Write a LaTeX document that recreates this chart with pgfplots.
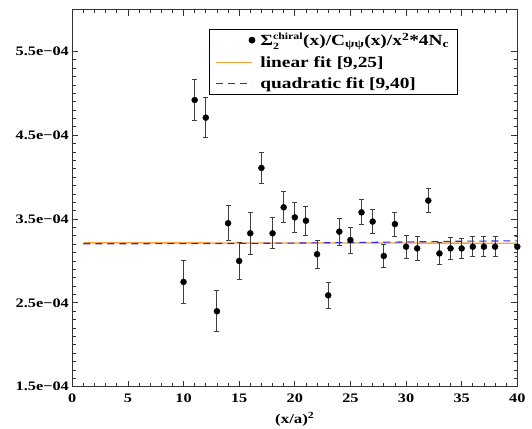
\documentclass[border=0pt]{standalone}
\usepackage{pgfplots}
\pgfplotsset{compat=1.18}
\usepackage{pgfplotstable}
\usepackage{fontspec}
\setmainfont{Liberation Serif}
\newfontfamily\plotfont[FakeStretch=1.25]{Liberation Serif}

\definecolor{fitorange}{RGB}{255,160,50}
\definecolor{fitblue}{RGB}{40,40,240}

% x  y  error
\pgfplotstableread{
x y ey
10 2.75e-4 0.26e-4
11 4.92e-4 0.24e-4
12 4.71e-4 0.24e-4
13 2.40e-4 0.245e-4
14 3.45e-4 0.21e-4
15 3.00e-4 0.22e-4
16 3.33e-4 0.25e-4
17 4.11e-4 0.18e-4
18 3.33e-4 0.185e-4
19 3.64e-4 0.185e-4
20 3.52e-4 0.18e-4
21 3.48e-4 0.175e-4
22 3.08e-4 0.17e-4
23 2.59e-4 0.155e-4
24 3.35e-4 0.16e-4
25 3.25e-4 0.155e-4
26 3.58e-4 0.15e-4
27 3.47e-4 0.147e-4
28 3.06e-4 0.14e-4
29 3.44e-4 0.143e-4
30 3.17e-4 0.137e-4
31 3.15e-4 0.14e-4
32 3.72e-4 0.143e-4
33 3.09e-4 0.13e-4
34 3.15e-4 0.13e-4
35 3.15e-4 0.12e-4
36 3.17e-4 0.12e-4
37 3.17e-4 0.12e-4
38 3.17e-4 0.12e-4
40 3.17e-4 0.12e-4
}\chiraldata

\newcommand{\smallfont}{\fontsize{9.5}{9.5}\selectfont}

\begin{document}
\begin{tikzpicture}
\begin{axis}[
    scale only axis,
    width=445pt, height=377.2pt,
    xmin=0, xmax=40, ymin=1.5e-4, ymax=6.0e-4,
    xtick={0,5,...,40}, minor x tick num=4,
    ytick={1.5e-4,2.5e-4,3.5e-4,4.5e-4,5.5e-4},
    yticklabels={1.5e−04,2.5e−04,3.5e−04,4.5e−04,5.5e−04},
    minor y tick num=9,
    scaled y ticks=false,
    tick align=inside,
    major tick length=6pt, minor tick length=3.5pt,
    tick style={black!80, line width=0.8pt},
    axis line style={black!80, line width=1pt},
    ticklabel style={font=\plotfont\bfseries\fontsize{13}{13}\selectfont},
    xticklabel style={yshift=-4pt},
    /pgf/number format/assume math mode=true,
    xlabel={(x/a)\textsuperscript{2}},
    label style={font=\plotfont\bfseries\fontsize{13.5}{13.5}\selectfont},
    xlabel style={at={(axis description cs:0.5,0)}, anchor=north, yshift=-22pt},
    legend style={at={(0.307,0.949)}, anchor=north west,
        draw=black, line width=0.8pt, inner xsep=6pt,
        font=\plotfont\bfseries\fontsize{15.5}{15.5}\selectfont,
        row sep=5pt,
        /tikz/every odd column/.append style={column sep=3pt}},
    legend cell align=left,
]
% fit curves, below the points
\addplot[fitorange, line width=1.3pt, forget plot]
    coordinates {(1,3.217e-4) (40,3.212e-4)};
\addplot[fitblue, line width=1.1pt, dash pattern=on 7pt off 5pt, smooth, forget plot]
    coordinates {(1,3.205e-4) (5,3.2055e-4) (10,3.207e-4) (15,3.2092e-4)
                 (20,3.2137e-4) (25,3.2196e-4) (30,3.2268e-4) (35,3.2354e-4) (40,3.24e-4)};

\addplot[only marks, mark=*, mark size=3pt, black,
    legend image code/.code={%
        \path[draw=none, fill=none] (0pt,-3pt) rectangle (39pt,3pt);
        \fill[black] (36pt,0pt) circle (3pt);},
    error bars/.cd, y dir=both, y explicit,
    error bar style={black!75, line width=0.9pt},
    error mark options={rotate=90, mark size=2.5pt, black!75, line width=0.9pt}]
    table[x=x, y=y, y error=ey] {\chiraldata};
\addlegendentry{$\mbox{Σ}_{\mbox{\smallfont 2}}^{\mbox{\smallfont chiral}}$(x)/C\textsubscript{ψψ}(x)/x\textsuperscript{2}*4N\textsubscript{c}\hspace{3pt}}

\addlegendimage{legend image code/.code={%
        \path[draw=none, fill=none] (0pt,-3pt) rectangle (39pt,3pt);
        \draw[fitorange, line width=1.3pt] (0pt,0pt) -- (36pt,0pt);}}
\addlegendentry{linear fit [9,25]}
\addlegendimage{legend image code/.code={%
        \path[draw=none, fill=none] (0pt,-3pt) rectangle (39pt,3pt);
        \draw[fitblue, line width=1.2pt, dash pattern=on 7pt off 5pt] (0pt,0pt) -- (36pt,0pt);}}
\addlegendentry{quadratic fit [9,40]}
\end{axis}
\pgfresetboundingbox
\path[use as bounding box] (-72.3pt,-41.3pt) rectangle (459.7pt,386.7pt);
\end{tikzpicture}
\end{document}
